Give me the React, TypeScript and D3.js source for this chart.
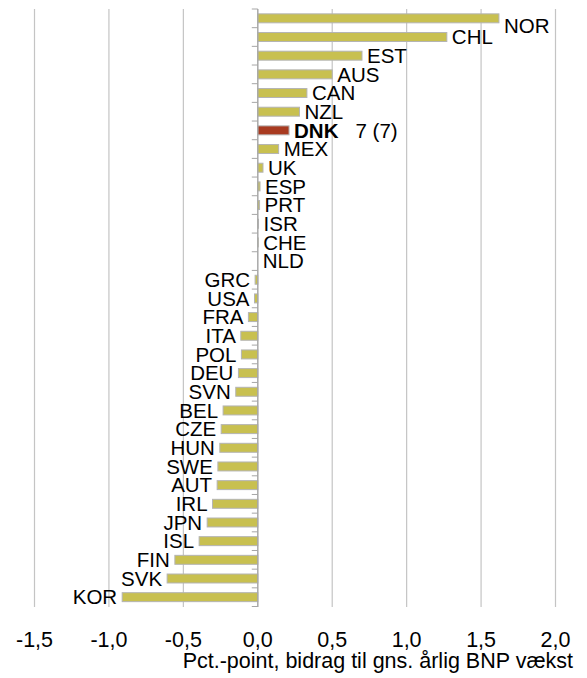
import React from "react";
import * as d3 from "d3";

const countries = ["NOR","CHL","EST","AUS","CAN","NZL","DNK","MEX","UK","ESP","PRT","ISR","CHE","NLD","GRC","USA","FRA","ITA","POL","DEU","SVN","BEL","CZE","HUN","SWE","AUT","IRL","JPN","ISL","FIN","SVK","KOR"];
const values = [1.62,1.27,0.70,0.50,0.33,0.28,0.21,0.14,0.035,0.015,0.012,0.005,0.003,0.0,-0.018,-0.022,-0.063,-0.114,-0.11,-0.13,-0.148,-0.233,-0.246,-0.255,-0.268,-0.273,-0.304,-0.34,-0.394,-0.557,-0.609,-0.911];
const xTicks = [-1.5,-1.0,-0.5,0.0,0.5,1.0,1.5,2.0];
const highlight = "DNK";
const highlightNote = "7 (7)";
const axisTitle = "Pct.-point, bidrag til gns. årlig BNP vækst";

export default function App() {
  const W = 587, H = 678;
  const x = d3.scaleLinear().domain([-1.5, 2.0]).range([34.5, 555.5]);
  const y = d3.scaleBand().domain(countries).range([9, 606.5]).paddingInner(0.52).paddingOuter(0.26);
  const x0 = x(0);
  const step = y.step();
  const boundaries = d3.range(countries.length + 1).map(i => 9 + i * step);
  const fmt = (v: number) => d3.format(".1f")(v).replace(".", ",").replace("−", "-");
  const font = "Liberation Sans, Arial, sans-serif";
  return (
    <svg width={W} height={H} style={{ position: "absolute", left: 0, top: 0, background: "#fff" }} fontFamily={font}>
      {xTicks.map(t => (
        <line key={t} x1={x(t)} x2={x(t)} y1={9} y2={607} stroke="#c4c4c4" strokeWidth={1.2} />
      ))}
      {countries.map((c, i) => {
        const v = values[i];
        const xa = Math.min(x(v), x0), xb = Math.max(x(v), x0);
        const yy = y(c)!;
        const bw = y.bandwidth();
        return (
          <g key={c}>
            {xb - xa > 0.3 && (
              <rect x={xa} y={yy} width={xb - xa} height={bw}
                fill={c === highlight ? "#A83A20" : "#C8C050"} stroke="#b4b4b4" strokeWidth={1} />
            )}
          </g>
        );
      })}
      <line x1={x0} x2={x0} y1={9} y2={607} stroke="#a6a6a6" strokeWidth={1.2} />
      {boundaries.map((b, i) => (
        <line key={i} x1={x0 - 6} x2={x0} y1={b} y2={b} stroke="#a6a6a6" strokeWidth={1} />
      ))}
      {countries.map((c, i) => {
        const v = values[i];
        const cy = y(c)! + y.bandwidth() / 2;
        const pos = v >= 0;
        const tx = pos ? Math.max(x(v), x0) + 5 : x(v) - 5;
        const dy = c === "NOR" ? 15 : 7.3;
        if (c === highlight) {
          return (
            <text key={c} x={tx} y={cy + dy} fontSize={20.5} fill="#000">
              <tspan fontWeight="bold">{c}</tspan>
              <tspan dx={17}>{highlightNote}</tspan>
            </text>
          );
        }
        return (
          <text key={c} x={tx} y={cy + dy} fontSize={20.5} fill="#000" textAnchor={pos ? "start" : "end"}>{c}</text>
        );
      })}
      {xTicks.map(t => (
        <text key={t} x={x(t)} y={647} fontSize={21.5} textAnchor="middle" fill="#000">{fmt(t)}</text>
      ))}
      <text x={573} y={668} fontSize={21.5} textAnchor="end" fill="#000">{axisTitle}</text>
    </svg>
  );
}
